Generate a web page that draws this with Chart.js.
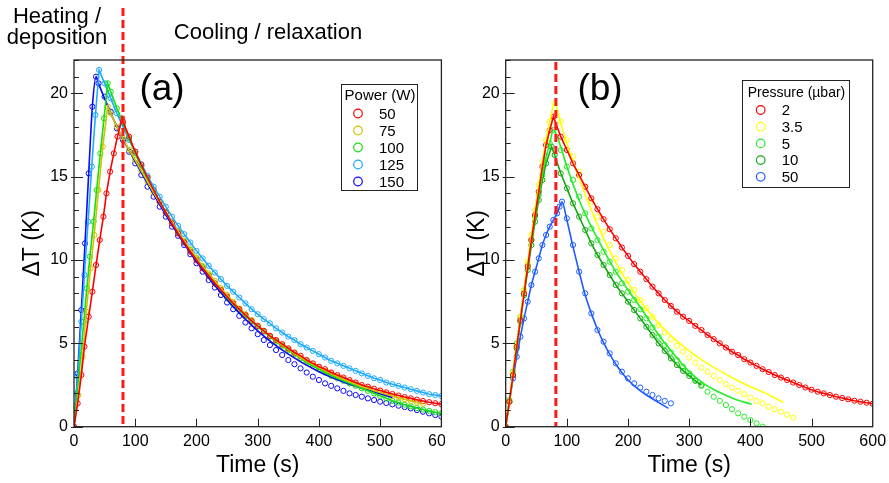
<!DOCTYPE html>
<html>
<head>
<meta charset="utf-8">
<script src="https://cdn.jsdelivr.net/npm/chart.js@4.4.1/dist/chart.umd.min.js"></script>
<style>
  html, body { margin: 0; padding: 0; background: #fff; }
  #wrap { position: relative; width: 889px; height: 483px; }
  #wrap canvas { position: absolute; top: 0; }
</style>
</head>
<body>
<div id="wrap">
  <canvas id="ca" width="445" height="483" style="left:0"></canvas>
  <canvas id="cb" width="444" height="483" style="left:445px"></canvas>
</div>
<script>
// ---- panel (a): power series, [time s, dT K] ----
const powerLabels = ['50', '75', '100', '125', '150'];

const p50Heat = [[0,0],[6,1.4],[12,3.1],[17,4.8],[24,6.6],[30,8.1],[36,9.7],[42,11.2],[48,12.6],[53,14.0],[59,15.3],[65,16.4],[71,17.4],[78,18.5]];
const p50Cool = [[80,18.3],[90,17.4],[100,16.5],[110,15.7],[120,14.95],[130,14.2],[140,13.5],[150,12.85],[160,12.2],[170,11.6],[180,11.05],[190,10.5],[200,10.0],[210,9.5],[220,9.05],[230,8.6],[240,8.2],[250,7.8],[260,7.4],[270,7.05],[280,6.7],[290,6.35],[300,6.05],[310,5.75],[320,5.45],[330,5.2],[340,4.95],[350,4.7],[360,4.45],[370,4.25],[380,4.0],[390,3.8],[400,3.6],[410,3.45],[420,3.25],[430,3.1],[440,2.95],[450,2.8],[460,2.65],[470,2.5],[480,2.4],[490,2.28],[500,2.17],[510,2.06],[520,1.96],[530,1.87],[540,1.78],[550,1.7],[560,1.62],[570,1.54],[580,1.47],[590,1.41],[600,1.35]];

const p75Heat = [[0,0],[7,1.9],[14,4.2],[20,6.9],[27,9.5],[33,11.5],[40,14.2],[47,16.8],[55,19.2]];
const p75Cool = [[60,18.8],[70,18.0],[80,17.3],[90,16.6],[100,16.0],[110,15.35],[120,14.7],[130,14.05],[140,13.45],[150,12.85],[160,12.25],[170,11.7],[180,11.15],[190,10.65],[200,10.15],[210,9.65],[220,9.2],[230,8.75],[240,8.3],[250,7.9],[260,7.5],[270,7.1],[280,6.75],[290,6.4],[300,6.05],[310,5.75],[320,5.45],[330,5.15],[340,4.9],[350,4.65],[360,4.4],[370,4.15],[380,3.95],[390,3.75],[400,3.55],[410,3.35],[420,3.2],[430,3.0],[440,2.85],[450,2.7],[460,2.55],[470,2.4],[480,2.3],[490,2.15],[500,2.05],[510,1.95],[520,1.85],[530,1.75],[540,1.65],[550,1.55],[560,1.45],[570,1.38]];

const p100Heat = [[0,0],[5,2.0],[11,4.3],[16,6.3],[21,8.3],[26,10.2],[32,12.3],[37,14.2],[43,16.4],[49,18.5],[55,20.6]];
const p100Cool = [[60,20.1],[70,19.1],[80,18.2],[90,17.3],[100,16.4],[110,15.6],[120,14.9],[130,14.2],[140,13.5],[150,12.85],[160,12.25],[170,11.65],[180,11.1],[190,10.6],[200,10.1],[210,9.6],[220,9.1],[230,8.6],[240,8.2],[250,7.75],[260,7.35],[270,7.0],[280,6.65],[290,6.3],[300,6.0],[310,5.7],[320,5.4],[330,5.1],[340,4.85],[350,4.6],[360,4.35],[370,4.1],[380,3.85],[390,3.65],[400,3.45],[410,3.25],[420,3.05],[430,2.9],[440,2.75],[450,2.6],[460,2.45],[470,2.3],[480,2.15],[490,2.0],[500,1.85],[510,1.7],[520,1.55],[530,1.45],[540,1.32],[550,1.22],[560,1.12],[570,1.03],[580,0.95],[590,0.87],[600,0.8]];

const p125Heat = [[0,0],[6,3.0],[12,6.3],[17,9.1],[23,12.3],[29,15.6],[35,18.7],[41,21.4]];
const p125Cool = [[50,20.6],[60,19.7],[70,18.8],[80,18.0],[90,17.2],[100,16.5],[110,15.75],[120,15.05],[130,14.4],[140,13.8],[150,13.2],[160,12.6],[170,12.05],[180,11.55],[190,11.05],[200,10.55],[210,10.1],[220,9.65],[230,9.25],[240,8.85],[250,8.45],[260,8.1],[270,7.75],[280,7.4],[290,7.05],[300,6.75],[310,6.45],[320,6.2],[330,5.9],[340,5.65],[350,5.4],[360,5.2],[370,4.95],[380,4.75],[390,4.55],[400,4.35],[410,4.15],[420,3.95],[430,3.8],[440,3.65],[450,3.5],[460,3.35],[470,3.2],[480,3.05],[490,2.9],[500,2.8],[510,2.65],[520,2.55],[530,2.45],[540,2.35],[550,2.25],[560,2.15],[570,2.05],[580,1.95],[590,1.9],[600,1.85]];

const p150Heat = [[0,0],[6,3.2],[12,7.0],[18,11.0],[24,15.2],[30,19.2],[36,21.0]];
const p150Cool = [[40,20.6],[50,19.8],[60,18.9],[70,17.9],[80,17.2],[90,16.5],[100,15.8],[110,15.1],[120,14.4],[130,13.8],[140,13.2],[150,12.6],[160,12.0],[170,11.45],[180,10.9],[190,10.35],[200,9.8],[210,9.3],[220,8.8],[230,8.35],[240,7.9],[250,7.45],[260,7.05],[270,6.65],[280,6.25],[290,5.9],[300,5.55],[310,5.2],[320,4.9],[330,4.6],[340,4.3],[350,4.0],[360,3.75],[370,3.5],[380,3.25],[390,3.0],[400,2.8],[410,2.6],[420,2.45],[430,2.3],[440,2.15],[450,2.0],[460,1.9],[470,1.8],[480,1.7],[490,1.6],[500,1.5],[510,1.42],[520,1.34],[530,1.26],[540,1.18],[550,1.1],[560,1.0],[570,0.9],[580,0.8],[590,0.7],[600,0.6]];
const p150Fit = [[40,20.6],[70,18.0],[100,15.9],[150,12.7],[200,9.9],[250,7.6],[300,5.75],[350,4.35],[400,3.3],[450,2.55],[480,2.2],[520,1.75]];

// ---- panel (b): pressure series ----
const pressureLabels = ['2', '3.5', '5', '10', '50'];

const b2Heat = [[0,0],[6,1.5],[12,3.1],[18,4.8],[24,6.4],[30,8.0],[36,9.6],[42,11.2],[48,12.7],[54,14.1],[60,15.6],[66,16.9],[72,17.8],[78,18.6]];
const b2Cool = [[90,17.4],[100,16.6],[110,15.8],[120,15.1],[130,14.4],[140,13.7],[150,13.05],[160,12.45],[170,11.85],[180,11.3],[190,10.75],[200,10.25],[210,9.75],[220,9.3],[230,8.85],[240,8.4],[250,8.0],[260,7.6],[270,7.25],[280,6.9],[290,6.6],[300,6.35],[310,6.05],[320,5.8],[330,5.5],[340,5.25],[350,5.0],[360,4.75],[370,4.5],[380,4.3],[390,4.05],[400,3.85],[410,3.65],[420,3.45],[430,3.28],[440,3.1],[450,2.95],[460,2.8],[470,2.65],[480,2.5],[490,2.35],[500,2.22],[510,2.1],[520,2.0],[530,1.9],[540,1.8],[550,1.72],[560,1.64],[570,1.56],[580,1.5],[590,1.44],[600,1.38]];

const b35Heat = [[0,0],[6,1.5],[12,3.2],[18,4.9],[24,6.6],[30,8.2],[36,9.9],[42,11.5],[48,13.0],[54,14.5],[60,15.9],[66,17.2],[72,18.3],[80,19.4]];
const b35Cool = [[90,18.3],[100,17.2],[110,16.2],[120,15.3],[130,14.4],[140,13.5],[150,12.6],[160,11.7],[170,10.9],[180,10.1],[190,9.4],[200,8.8],[210,8.2],[220,7.6],[230,7.1],[240,6.6],[250,6.1],[260,5.65],[270,5.25],[280,4.85],[290,4.5],[300,4.15],[310,3.85],[320,3.55],[330,3.3],[340,3.05],[350,2.8],[360,2.55],[370,2.35],[380,2.15],[390,1.95],[400,1.75],[410,1.55],[420,1.4],[430,1.2],[440,1.05],[450,0.9],[460,0.72],[470,0.55]];
const b35Fit = [[90,18.2],[100,17.0],[120,14.9],[140,13.0],[160,11.3],[180,9.85],[200,8.6],[225,7.3],[250,6.2],[275,5.3],[300,4.55],[325,3.9],[350,3.35],[375,2.85],[400,2.4],[425,2.0],[454,1.45]];

const b5Heat = [[0,0],[6,1.6],[12,3.3],[18,5.0],[24,6.6],[30,8.2],[36,9.7],[42,11.2],[48,12.6],[54,13.9],[60,15.1],[66,16.2],[72,17.0],[78,17.8]];
const b5Cool = [[90,16.6],[100,15.6],[110,14.8],[120,13.8],[130,12.8],[140,11.9],[150,11.2],[160,10.5],[170,9.9],[180,9.3],[190,8.6],[200,8.1],[210,7.6],[220,7.05],[230,6.5],[240,5.95],[250,5.4],[260,4.9],[270,4.45],[280,4.0],[290,3.6],[300,3.2],[310,2.8],[320,2.45],[330,2.1],[340,1.8],[350,1.55],[360,1.3],[370,1.05],[380,0.8],[390,0.6],[400,0.4],[410,0.2],[420,0.0]];
const b5Fit = [[90,16.8],[100,15.6],[120,13.6],[140,12.0],[160,10.6],[180,9.3],[200,8.2],[225,6.9],[250,5.5],[275,4.35],[300,3.3],[325,2.55],[350,2.05],[375,1.65],[402,1.35]];

const b10Heat = [[0,0],[6,1.5],[12,3.1],[18,4.7],[24,6.3],[30,7.9],[36,9.4],[42,10.9],[48,12.3],[54,13.6],[60,14.8],[66,15.8],[75,16.8]];
const b10Cool = [[80,16.3],[90,15.2],[100,14.3],[110,13.4],[120,12.6],[130,11.8],[140,11.0],[150,10.3],[160,9.7],[170,9.1],[180,8.5],[190,8.0],[200,7.5],[210,7.0],[220,6.5],[230,6.0],[240,5.5],[250,5.0],[260,4.55],[270,4.1],[280,3.7],[290,3.35],[300,3.05],[310,2.75],[320,2.5]];

const b50Heat = [[0,0],[6,1.5],[12,2.9],[18,4.2],[24,5.4],[30,6.5],[36,7.5],[42,8.5],[48,9.3],[54,10.1],[60,10.9],[66,11.5],[72,12.0],[78,12.4],[84,12.8],[88,13.2],[92,13.5]];
const b50Cool = [[100,12.5],[110,10.9],[120,9.3],[130,8.0],[140,6.8],[150,5.8],[160,5.1],[170,4.4],[180,3.8],[190,3.3],[200,2.9],[210,2.6],[220,2.35],[230,2.1],[240,1.9],[250,1.7],[260,1.55],[270,1.4]];
const b50Fit = [[100,12.4],[110,10.8],[120,9.3],[130,7.9],[140,6.8],[150,5.85],[160,5.05],[170,4.35],[180,3.75],[190,3.25],[200,2.8],[215,2.3],[230,1.9],[250,1.45],[266,1.1]];

const FONT = "'Liberation Sans', Arial, Helvetica, sans-serif";
Chart.defaults.font.family = FONT;
Chart.defaults.color = '#000';

const xy = arr => arr.map(p => ({ x: p[0], y: p[1] }));

function buildSets(heats, cools, fits, labels, colors) {
  const sets = [];
  labels.forEach((lab, i) => {
    // measured points: open circles
    sets.push({
      label: lab,
      data: xy(heats[i].concat(cools[i])),
      showLine: false,
      pointRadius: 2.6,
      pointHoverRadius: 2.6,
      pointBorderWidth: 1,
      borderColor: colors[i],
      backgroundColor: 'rgba(0,0,0,0)',
      inLegend: true,
      order: 2
    });
    // model curve (falls back to the points)
    const fit = fits[i];
    sets.push({
      label: lab + ' fit',
      data: xy(heats[i].concat(fit || cools[i])),
      showLine: true,
      pointRadius: 0,
      borderWidth: 1.6,
      borderColor: colors[i],
      fill: false,
      cubicInterpolationMode: fit ? 'monotone' : 'default',
      order: 1
    });
  });
  return sets;
}

// frame, inward ticks, dashed marker, tags and the boxed legend
const panelPlugin = {
  id: 'panel',
  afterDatasetsDraw(chart, args, o) {
    const { ctx, chartArea: a, scales: { x, y } } = chart;
    ctx.save();

    const dx = x.getPixelForValue(o.dashAt);
    ctx.strokeStyle = '#ff1a1a';
    ctx.lineWidth = 3;
    ctx.setLineDash([8, 4]);
    ctx.beginPath();
    ctx.moveTo(dx, o.dashTop);
    ctx.lineTo(dx, a.bottom);
    ctx.stroke();
    ctx.setLineDash([]);

    ctx.strokeStyle = '#222';
    ctx.lineWidth = 1.3;
    ctx.strokeRect(a.left, a.top, a.right - a.left, a.bottom - a.top);

    ctx.beginPath();
    for (let v = y.min; v <= y.max; v++) {
      const py = Math.round(y.getPixelForValue(v)) + 0.5;
      const major = v % 5 === 0;
      ctx.moveTo(a.left - (major ? 3 : 0), py);
      ctx.lineTo(a.left + (major ? 9 : 5), py);
    }
    for (let t = x.min + 100; t < x.max; t += 100) {
      const px = Math.round(x.getPixelForValue(t)) + 0.5;
      ctx.moveTo(px, a.bottom);
      ctx.lineTo(px, a.bottom - 8);
    }
    ctx.lineWidth = 1;
    ctx.stroke();

    ctx.fillStyle = '#000';
    ctx.textBaseline = 'alphabetic';
    o.texts.forEach(t => {
      ctx.font = t.size + 'px ' + FONT;
      ctx.textAlign = 'center';
      ctx.fillText(t.text, t.x, t.y);
    });

    const L = o.legend;
    ctx.fillStyle = '#fff';
    ctx.fillRect(L.x, L.y, L.w, L.h);
    ctx.strokeStyle = '#222';
    ctx.lineWidth = 1;
    ctx.strokeRect(L.x + 0.5, L.y + 0.5, L.w, L.h);
    ctx.fillStyle = '#000';
    ctx.font = L.titleSize + 'px ' + FONT;
    ctx.textAlign = 'center';
    ctx.textBaseline = 'middle';
    ctx.fillText(L.title, L.x + L.w / 2 + 1, L.titleY);
    ctx.font = '15px ' + FONT;
    chart.data.datasets.filter(d => d.inLegend).forEach((d, i) => {
      const cy = L.rowY + i * L.step;
      ctx.beginPath();
      ctx.arc(L.dotX, cy, 4.3, 0, Math.PI * 2);
      ctx.strokeStyle = d.borderColor;
      ctx.lineWidth = 1.2;
      ctx.stroke();
      ctx.fillStyle = '#000';
      ctx.textAlign = 'left';
      ctx.fillText(d.label, L.textX, cy + 1);
    });
    ctx.restore();
  }
};

function makeChart(id, datasets, yWidth, padRight, panel) {
  return new Chart(document.getElementById(id), {
    type: 'scatter',
    data: { datasets },
    plugins: [panelPlugin],
    options: {
      responsive: false,
      animation: false,
      events: [],
      layout: { padding: { left: 0, right: padRight, top: 60, bottom: 0 } },
      scales: {
        x: {
          type: 'linear', min: 0, max: 600,
          ticks: { stepSize: 100, padding: 5, maxRotation: 0, font: { size: 16 }, color: '#000' },
          grid: { display: false, drawTicks: false },
          border: { display: false },
          title: { display: true, text: 'Time (s)', font: { size: 23 }, color: '#000', padding: { top: 0, bottom: 4 } },
          afterFit(s) { s.height = 56.3; s.paddingLeft = 0; s.paddingRight = 0; }
        },
        y: {
          min: 0, max: 22,
          ticks: { stepSize: 5, padding: 6, font: { size: 16 }, color: '#000', callback: v => (v % 5 === 0 ? v : '') },
          grid: { display: false, drawTicks: false },
          border: { display: false },
          title: { display: true, text: 'ΔT (K)', font: { size: 23 }, color: '#000', padding: { top: 19, bottom: 0 } },
          afterFit(s) { s.width = yWidth; s.paddingTop = 0; s.paddingBottom = 0; }
        }
      },
      plugins: { legend: { display: false }, tooltip: { enabled: false }, panel }
    }
  });
}

makeChart('ca',
  buildSets([p50Heat, p75Heat, p100Heat, p125Heat, p150Heat],
            [p50Cool, p75Cool, p100Cool, p125Cool, p150Cool],
            [null, null, null, null, p150Fit],
            powerLabels, ['#ff0000', '#cfc400', '#11e011', '#1eaaff', '#0a0aff']),
  74, 3.3,
  {
    dashAt: 80, dashTop: 8,
    texts: [
      { text: 'Heating /', x: 57, y: 23, size: 22 },
      { text: 'deposition', x: 57, y: 44, size: 22 },
      { text: 'Cooling / relaxation', x: 268, y: 39, size: 22 },
      { text: '(a)', x: 162, y: 100, size: 37 }
    ],
    legend: { x: 341, y: 84, w: 76, h: 106, title: 'Power (W)', titleSize: 15, titleY: 96, rowY: 113.5, step: 17, dotX: 358, textX: 379 }
  });

makeChart('cb',
  buildSets([b2Heat, b35Heat, b5Heat, b10Heat, b50Heat],
            [b2Cool, b35Cool, b5Cool, b10Cool, b50Cool],
            [null, b35Fit, b5Fit, null, b50Fit],
            pressureLabels, ['#ff0000', '#ffff00', '#22ee22', '#11aa11', '#1f5cff']),
  60.7, 16.3,
  {
    dashAt: 82, dashTop: 62,
    texts: [
      { text: '(b)', x: 155, y: 100, size: 37 }
    ],
    legend: { x: 297, y: 80, w: 107, h: 107, title: 'Pressure (µbar)', titleSize: 14, titleY: 93, rowY: 110, step: 16.7, dotX: 315.7, textX: 336.7 }
  });
</script>
</body>
</html>
